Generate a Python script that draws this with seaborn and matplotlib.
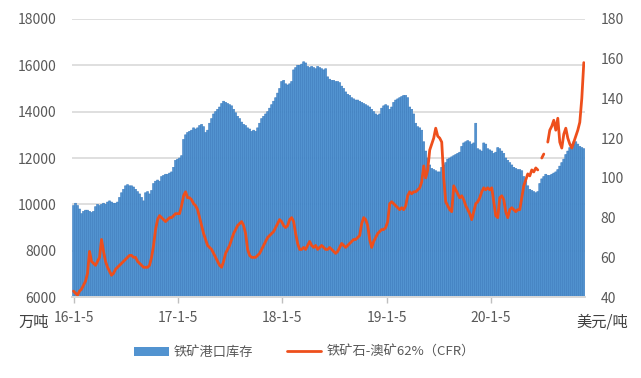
import numpy as np
import pandas as pd
import matplotlib
matplotlib.use("Agg")
import matplotlib.pyplot as plt
from matplotlib.patches import Patch
from matplotlib.lines import Line2D
import seaborn as sns

# weekly data, first week 2016-01-05
inv_2016 = [9950, 10050, 9950, 9800, 9600, 9700, 9750, 9750, 9700, 9650,
            9700, 9900, 10000, 9950, 10000, 10050, 10000, 10100, 10150, 10100,
            10050, 10050, 10100, 10300, 10500, 10650, 10800, 10850, 10800, 10800,
            10750, 10650, 10550, 10450, 10300, 10150, 10500, 10550, 10450, 10600,
            10900, 11000, 11050, 11000, 11200, 11250, 11300, 11300, 11350, 11400,
            11600, 11900]
inv_2017 = [11950, 12000, 12100, 12800, 13000, 13100, 13150, 13200, 13300, 13250,
            13300, 13400, 13450, 13350, 13100, 13200, 13500, 13700, 13900, 14000,
            14100, 14200, 14350, 14450, 14400, 14350, 14300, 14250, 14100, 13950,
            13800, 13700, 13550, 13450, 13400, 13300, 13250, 13150, 13200, 13150,
            13300, 13500, 13700, 13800, 13900, 14000, 14150, 14300, 14450, 14600,
            14800, 15000]
inv_2018 = [15300, 15350, 15200, 15150, 15200, 15300, 15800, 15900, 16000, 16000,
            16050, 16150, 16100, 15950, 15900, 15950, 15900, 15850, 15950, 15900,
            15850, 15800, 15850, 15500, 15400, 15350, 15350, 15300, 15300, 15250,
            15100, 15000, 14850, 14750, 14700, 14600, 14550, 14500, 14500, 14450,
            14400, 14350, 14300, 14250, 14200, 14100, 14000, 13900, 13850, 13900,
            14150, 14250]
inv_2019 = [14300, 14250, 14100, 14200, 14400, 14500, 14550, 14600, 14650, 14700,
            14700, 14600, 14200, 14100, 13900, 13500, 13350, 13300, 13200, 12700,
            12300, 12000, 11700, 11550, 11500, 11450, 11400, 11400, 11600, 11700,
            11800, 11950, 12000, 12050, 12100, 12150, 12200, 12250, 12500, 12650,
            12700, 12750, 12700, 12600, 12650, 13500, 12400, 12350, 12300, 12650,
            12600, 12400]
inv_2020 = [12350, 12300, 12200, 12250, 12450, 12400, 12300, 12200, 12000, 11900,
            11800, 11700, 11600, 11550, 11500, 11500, 11450, 11200, 11000, 10800,
            10650, 10600, 10550, 10500, 10550, 10900, 11100, 11200, 11300, 11250,
            11250, 11300, 11350, 11400, 11500, 11650, 11800, 11950, 12150, 12300,
            12450, 12600, 12700, 12700, 12600, 12500, 12450, 12400]

price_2016 = [43, 42, 41, 43, 44, 46, 48, 52, 63, 58,
              57, 56, 58, 60, 69, 63, 58, 55, 53, 51,
              52, 54, 55, 56, 57, 58, 59, 60, 61, 61,
              60, 60, 58, 57, 56, 55, 55, 55, 56, 60,
              66, 74, 79, 81, 80, 79, 78, 79, 80, 80,
              81, 82]
price_2017 = [82, 82, 86, 91, 93, 90, 90, 89, 87, 86,
              84, 80, 76, 72, 69, 66, 65, 64, 62, 60,
              58, 56, 55, 58, 62, 64, 66, 69, 72, 74,
              76, 77, 78, 76, 72, 64, 61, 60, 60, 60,
              61, 62, 64, 66, 68, 70, 71, 72, 73, 75,
              77, 79]
price_2018 = [78, 76, 75, 76, 79, 80, 78, 72, 67, 64,
              64, 65, 64, 66, 68, 66, 65, 66, 64, 65,
              66, 65, 64, 64, 65, 64, 63, 62, 63, 65,
              67, 66, 65, 66, 67, 68, 69, 69, 70, 71,
              77, 80, 79, 76, 69, 65, 68, 70, 72, 73,
              74, 74]
price_2019 = [75, 78, 87, 88, 87, 86, 85, 84, 85, 84,
              86, 91, 93, 92, 93, 93, 94, 95, 98, 106,
              100, 104, 114, 117, 120, 125, 121, 120, 118, 100,
              88, 86, 84, 83, 96, 94, 92, 90, 91, 89,
              86, 84, 82, 79, 83, 87, 88, 90, 93, 95,
              94, 95]
price_2020 = [94, 95, 88, 81, 80, 90, 91, 89, 83, 80,
              84, 85, 84, 83, 84, 84, 90, 96, 99, 102,
              101, 104, 103, 105, 104, np.nan, 110, 112, np.nan, 118,
              124, 126, 129, 124, 130, 118, 115, 122, 125, 120,
              117, 115, 118, 121, 124, 128, 140, 158]

tick_dates = ["2016-01-05", "2017-01-05", "2018-01-05", "2019-01-05", "2020-01-05"]
tick_labels = ["16-1-5", "17-1-5", "18-1-5", "19-1-5", "20-1-5"]

inventory = inv_2016 + inv_2017 + inv_2018 + inv_2019 + inv_2020
price = price_2016 + price_2017 + price_2018 + price_2019 + price_2020
dates = pd.date_range("2016-01-05", periods=len(inventory), freq="7D")

df = pd.DataFrame({"date": dates, "inventory": inventory, "price": price})
# break the line where values are missing
df["seg"] = df["price"].isna().cumsum()
line_df = df.dropna(subset=["price"])

bar_color = "#5293D0"
bar_edge = "#3A7BBE"
line_color = "#EE4F1C"
text_color = "#595959"

sns.set_theme(style="white")
plt.rcParams["font.family"] = ["Noto Sans CJK SC", "DejaVu Sans"]

fig = plt.figure(figsize=(6.41, 3.78), dpi=100)
ax = fig.add_axes([0.112, 0.214, 0.801, 0.736])

ax.bar(df["date"].dt.to_pydatetime(), df["inventory"], width=7.0, color=bar_color,
       edgecolor=bar_edge, linewidth=0.4, snap=False, zorder=2)
ax.set_ylim(6000, 18000)
ax.set_yticks(range(6000, 18001, 2000))
ax.yaxis.grid(True, color="#D9D9D9", linewidth=1.2, zorder=0)
ax.set_axisbelow(True)

ax2 = ax.twinx()
sns.lineplot(data=line_df, x="date", y="price", units="seg", estimator=None,
             color=line_color, linewidth=2, ax=ax2, legend=False)
ax2.set_ylim(40, 180)
ax2.set_yticks(range(40, 181, 20))

ax.set_xlim(pd.Timestamp("2015-12-30"), pd.Timestamp("2020-11-29"))
ax.set_xticks(pd.to_datetime(tick_dates))
ax.set_xticklabels(tick_labels)

for a in (ax, ax2):
    for s in ["top", "left", "right"]:
        a.spines[s].set_visible(False)
    a.spines["bottom"].set_color("#D9D9D9")
    a.set_xlabel("")
    a.set_ylabel("")

ax.tick_params(axis="y", length=0, pad=11, labelsize=10, labelcolor=text_color)
ax2.tick_params(axis="y", length=0, pad=11, labelsize=10, labelcolor=text_color)
ax.tick_params(axis="x", length=4, width=1, color="#BFBFBF", pad=6,
               labelsize=10, labelcolor=text_color, bottom=True)

fig.text(0.052, 0.148, "万吨", fontsize=11, color="#404040", ha="center", va="center")
fig.text(0.94, 0.148, "美元/吨", fontsize=11, color="#404040", ha="center", va="center")

handles = [Patch(facecolor=bar_color, edgecolor="none"),
           Line2D([0], [0], color=line_color, linewidth=2)]
fig.legend(handles, ["铁矿港口库存", "铁矿石-澳矿62%（CFR）"], loc="center",
           bbox_to_anchor=(0.475, 0.068), ncol=2, frameon=False, fontsize=9.5,
           labelcolor=text_color, handlelength=2.6, handleheight=0.7,
           columnspacing=2.5, handletextpad=0.4)

fig.savefig("out.png", dpi=100, facecolor="white")
plt.close(fig)
